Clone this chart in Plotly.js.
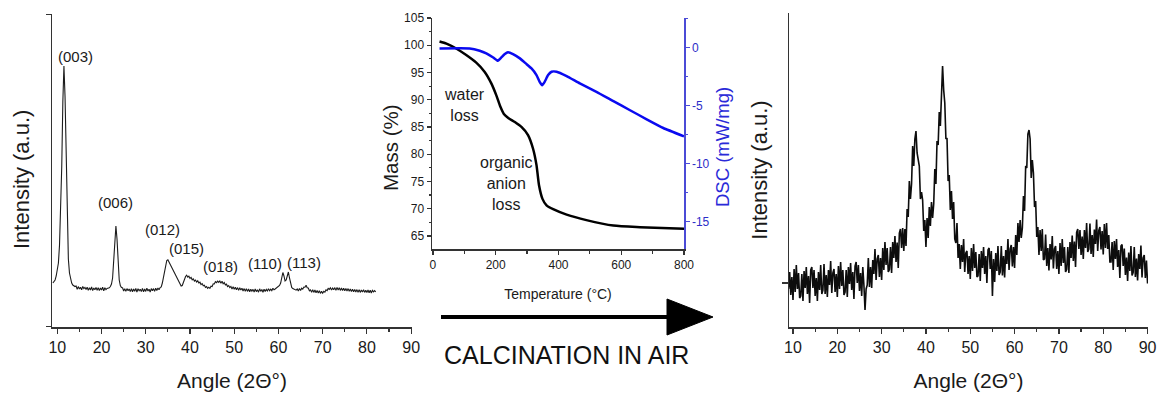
<!DOCTYPE html>
<html>
<head>
<meta charset="utf-8">
<script src="https://cdn.plot.ly/plotly-3.0.1.min.js"></script>
<style>html,body{margin:0;padding:0;background:#fff;}#chart{width:1160px;height:395px;}</style>
</head>
<body>
<div id="chart"></div>
<script>
// ---------- Panel 1: XRD of as-prepared LDH (angle grid: start 9.0, step 0.25) ----------
const xrd1Start = 9.0;
const xrd1Step = 0.25;
const xrd1Intensity = [
  440,
  450,470,510,560,640,820,1150,1600,2250,2610,
  2300,1650,1050,680,540,470,440,420,410,405,
  410,378,404,380,398,372,406,384,396,376,
  398,366,392,370,400,364,390,372,396,368,
  394,364,390,370,398,362,392,374,386,388,
  392,405,430,490,640,870,1010,880,620,470,
  415,395,392,360,382,356,384,362,380,354,
  384,352,380,358,386,350,382,362,378,354,
  386,352,380,356,388,360,378,350,384,362,
  384,356,388,364,390,372,394,400,440,500,
  570,630,665,672,650,620,595,570,548,525,
  505,490,470,450,425,410,415,450,485,505,
  518,498,508,486,496,472,482,460,470,450,
  462,440,448,424,434,412,418,396,404,386,
  398,386,408,404,432,430,454,444,458,446,
  460,438,458,432,444,420,428,404,414,394,
  406,380,402,378,398,372,394,368,392,370,
  388,360,384,358,382,356,380,352,378,358,
  376,350,380,354,372,348,382,356,376,348,
  378,354,376,360,382,362,378,364,388,372,
  380,388,394,402,415,440,500,545,510,460,
  470,530,550,490,420,395,384,378,372,368,
  380,360,384,364,388,378,400,398,418,392,
  390,362,372,348,374,346,370,342,366,340,
  362,336,358,338,356,348,372,364,386,376,
  392,370,390,372,394,366,396,370,392,366,
  390,364,388,362,386,360,384,358,380,356,
  378,352,376,350,374,348,372,346,370,350,
  372,346,368,344,370,342,368,340,366,352,
  364,350
];
const peakLabels = ['(003)','(006)','(012)','(015)','(018)','(110)','(113)'];
const peakLabelX = [14.0, 23.1, 33.7, 39.3, 46.8, 57.0, 65.8];
const peakLabelY = [2700, 1250, 980, 790, 610, 640, 650];

// ---------- Panel 2: TGA / DSC ----------
const tgaTemp = [21,43,74,106,138,165,186,202,215,226,239,261,282,303,319,330,338,349,362,383,426,489,575,660,800];
const tgaMass = [100.7,100.3,99.4,98.2,96.8,95.1,93.0,90.8,88.7,87.4,86.7,85.9,85.0,83.5,81.0,78.0,74.3,71.8,70.6,69.9,68.9,67.9,66.9,66.6,66.3];
const dscTemp = [21,117,149,170,192,207,218,229,239,255,277,298,314,330,340,348,356,367,378,394,426,468,521,575,628,681,734,800];
const dscSignal = [-0.06,-0.06,-0.26,-0.49,-0.84,-1.12,-0.84,-0.55,-0.40,-0.55,-0.92,-1.41,-1.79,-2.36,-2.94,-3.23,-2.94,-2.36,-2.07,-2.07,-2.45,-3.08,-3.80,-4.61,-5.39,-6.17,-6.92,-7.64];
const tgaNotes = ['water<br>loss', 'organic<br>anion<br>loss'];
const tgaNoteT = [99, 233];
const tgaNoteM = [89.1, 74.6];
const dscTickVals = [0,-5,-10,-15];
const dscTickText = ['0','-5','-10','-15'];

// ---------- Panel 3: XRD after calcination (angle grid: start 9.0, step 0.25) ----------
const xrd2Start = 9.0;
const xrd2Step = 0.25;
const xrd2Intensity = [
  -60,
  110,-120,60,-170,140,-90,180,-60,100,-150,
  -130,90,-180,120,-50,160,-110,70,-200,130,
  160,-50,130,-130,50,-180,110,-70,180,-110,
  -70,190,-110,80,-140,130,-20,220,-100,100,
  140,-90,90,-140,170,-60,210,-30,130,-120,
  -90,130,-140,160,-10,200,-70,110,-160,170,
  210,0,180,-80,100,-130,160,-20,-270,-60,
  -20,250,-40,160,-50,230,90,340,30,240,
  280,60,250,30,350,130,410,180,350,110,
  135,360,100,410,250,470,210,405,150,500,
  540,350,550,320,540,370,740,660,1020,840,
  990,1370,1170,1440,1520,1300,1220,1170,840,910,
  830,520,630,360,650,450,760,570,810,650,
  790,1140,990,1420,1380,1710,1570,1850,2170,1930,
  1800,1440,1450,1020,1080,730,920,640,810,440,
  400,600,250,390,140,380,210,440,110,300,
  320,90,270,40,350,120,390,150,310,60,
  70,290,20,320,150,360,90,270,0,330,
  350,140,320,-130,240,10,300,120,370,80,
  110,370,75,270,55,330,190,440,130,340,
  380,165,360,150,480,280,600,410,630,450,
  550,870,720,1170,1150,1490,1530,1440,1050,1230,
  1100,760,820,460,560,280,530,320,540,230,
  240,485,170,350,125,390,235,470,145,340,
  370,140,320,90,400,170,440,200,360,110,
  135,360,100,410,250,475,220,415,160,505,
  540,340,530,280,465,240,530,350,600,310,
  340,595,290,480,260,535,390,635,320,525,
  560,335,520,285,590,350,600,340,480,210,
  210,410,130,420,240,440,160,330,50,370,
  385,170,345,80,255,20,305,120,370,75,
  105,360,60,245,25,290,140,375,55,250,
  280,50,225,-5
];

const FONT = 'Liberation Sans, Arial, Helvetica, sans-serif';
const AX = '#333333';
const BLUE_AX = '#4b4bd6';

const traces = [
  {type:'scatter', mode:'lines', x0:xrd1Start, dx:xrd1Step, y:xrd1Intensity,
   xaxis:'x', yaxis:'y', line:{color:'#1c1c1c', width:1.1}, hoverinfo:'skip'},
  {type:'scatter', mode:'lines', x:tgaTemp, y:tgaMass, xaxis:'x2', yaxis:'y2',
   line:{color:'#000000', width:2.5, shape:'spline', smoothing:0.6}},
  {type:'scatter', mode:'lines', x:dscTemp, y:dscSignal, xaxis:'x2', yaxis:'y3',
   line:{color:'#0a0af0', width:2.5, shape:'spline', smoothing:0.4}},
  {type:'scatter', mode:'lines', x0:xrd2Start, dx:xrd2Step, y:xrd2Intensity,
   xaxis:'x3', yaxis:'y4', line:{color:'#0d0d0d', width:1.6}, hoverinfo:'skip'}
];

const annotations = [];
peakLabels.forEach((t,i)=>annotations.push({text:t, x:peakLabelX[i], y:peakLabelY[i], xref:'x', yref:'y',
  showarrow:false, font:{size:15, color:'#1a1a1a', family:FONT}, xanchor:'center', yanchor:'middle'}));
tgaNotes.forEach((t,i)=>annotations.push({text:t, x:tgaNoteT[i], y:tgaNoteM[i], xref:'x2', yref:'y2',
  showarrow:false, font:{size:16, color:'#1a1a1a', family:FONT}, xanchor:'center', yanchor:'middle', align:'center'}));
annotations.push({text:'CALCINATION IN AIR', x:566/1160, y:40/395, xref:'paper', yref:'paper',
  showarrow:false, font:{size:25, color:'#111', family:FONT}, xanchor:'center', yanchor:'middle'});
// axis titles that sit off-centre in the original
annotations.push({text:'Intensity (a.u.)', x:21/1160, y:(395-180)/395, xref:'paper', yref:'paper', textangle:-90,
  showarrow:false, font:{size:22, color:'#1a1a1a', family:FONT}, xanchor:'center', yanchor:'middle'});
annotations.push({text:'Mass (%)', x:390/1160, y:(395-148)/395, xref:'paper', yref:'paper', textangle:-90,
  showarrow:false, font:{size:20.5, color:'#1a1a1a', family:FONT}, xanchor:'center', yanchor:'middle'});
annotations.push({text:'DSC (mW/mg)', x:722/1160, y:(395-147)/395, xref:'paper', yref:'paper', textangle:-90,
  showarrow:false, font:{size:18.5, color:'#2a2ad8', family:FONT}, xanchor:'center', yanchor:'middle'});

const baseX = {ticks:'outside', tickcolor:AX, tickwidth:1.2, showline:true, linecolor:AX, linewidth:1.5,
  showgrid:false, zeroline:false, automargin:false};

const layout = {
  width:1160, height:395,
  margin:{l:0, r:0, t:0, b:0},
  paper_bgcolor:'#ffffff', plot_bgcolor:'rgba(0,0,0,0)',
  showlegend:false,
  font:{family:FONT, color:'#1a1a1a'},
  xaxis: Object.assign({}, baseX, {domain:[52/1160, 412/1160], anchor:'y', range:[8.8, 90.2],
    tick0:10, dtick:10, ticklen:5, minor:{dtick:5, tick0:5, ticks:'outside', ticklen:3, tickcolor:AX},
    tickfont:{size:16}, title:{text:'Angle (2Θ°)', font:{size:21}, standoff:18}}),
  yaxis: Object.assign({}, baseX, {domain:[68/395, 381/395], anchor:'x', range:[0, 3130],
    tickvals:[1, 3125], ticklen:5, showticklabels:false}),
  xaxis2: Object.assign({}, baseX, {domain:[432/1160, 684/1160], anchor:'y2', range:[-3, 800],
    tick0:0, dtick:200, ticklen:4, minor:{dtick:100, ticks:'outside', ticklen:3, tickcolor:AX},
    tickfont:{size:12}, title:{text:'Temperature (°C)', font:{size:14}, standoff:18}}),
  yaxis2: Object.assign({}, baseX, {domain:[146/395, 377/395], anchor:'x2', range:[62.6, 105],
    tick0:65, dtick:5, ticklen:4, minor:{dtick:2.5, ticks:'outside', ticklen:2, tickcolor:AX},
    tickfont:{size:12}}),
  yaxis3: {overlaying:'y2', anchor:'x2', side:'right', range:[-17.35, 2.56],
    tickvals:dscTickVals, ticktext:dscTickText, ticks:'outside', ticklen:4, tickcolor:BLUE_AX, tickwidth:1.2,
    minor:{dtick:2.5, ticks:'outside', ticklen:2, tickcolor:BLUE_AX},
    showline:true, linecolor:BLUE_AX, linewidth:1.5, showgrid:false, zeroline:false, automargin:false,
    tickfont:{size:12, color:'#2d2dc8'}},
  xaxis3: Object.assign({}, baseX, {domain:[789/1160, 1148/1160], anchor:'y4', range:[9.1, 90.1],
    tick0:10, dtick:10, ticklen:5, minor:{dtick:5, tick0:5, ticks:'outside', ticklen:3, tickcolor:AX},
    tickfont:{size:16}, title:{text:'Angle (2Θ°)', font:{size:21}, standoff:18}}),
  yaxis4: Object.assign({}, baseX, {domain:[68/395, 382/395], anchor:'x3', range:[-440, 2700],
    tickvals:[0], ticklen:6, showticklabels:false,
    title:{text:'Intensity (a.u.)', font:{size:22}, standoff:8}}),
  annotations: annotations,
  shapes: [
    {type:'line', xref:'paper', yref:'paper', x0:441/1160, x1:670/1160, y0:78/395, y1:78/395,
     line:{color:'#000', width:4}},
    {type:'path', xref:'paper', yref:'paper',
     path:'M '+(667/1160)+' '+(96/395)+' L '+(713/1160)+' '+(78/395)+' L '+(667/1160)+' '+(60/395)+' Z',
     fillcolor:'#000', line:{color:'#000', width:1}}
  ]
};

Plotly.newPlot('chart', traces, layout, {staticPlot:true, displayModeBar:false});
</script>
</body>
</html>
